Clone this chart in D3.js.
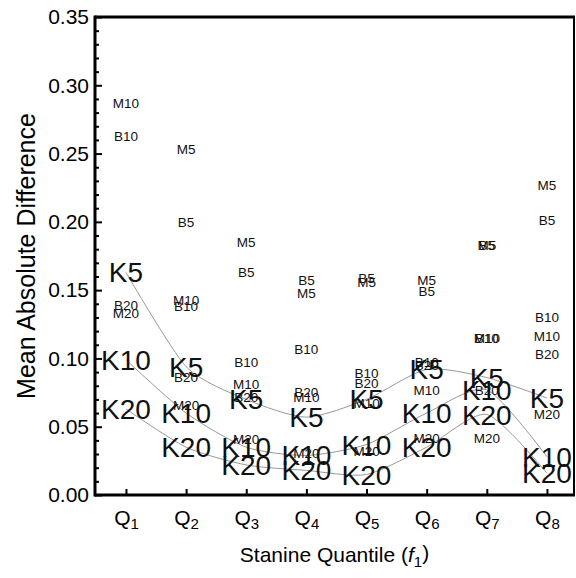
<!DOCTYPE html>
<html>
<head>
<meta charset="utf-8">
<script src="https://cdn.jsdelivr.net/npm/d3@7"></script>
<style>
  html, body { margin: 0; padding: 0; background: #fff; }
  svg { display: block; font-family: "Liberation Sans", Arial, sans-serif; }
</style>
</head>
<body>
<svg id="chart" width="576" height="578"></svg>
<script>
// Stanine quantiles Q1..Q8
const quantiles = [1, 2, 3, 4, 5, 6, 7, 8];
const yMajorTicks = [0, 0.05, 0.10, 0.15, 0.20, 0.25, 0.30, 0.35];

// Mean absolute difference per method (null = outside the plotted range)
const K5  = [0.163, 0.094, 0.070, 0.057, 0.070, 0.092, 0.086, 0.071];
const K10 = [0.099, 0.060, 0.035, 0.029, 0.037, 0.060, 0.077, 0.028];
const K20 = [0.063, 0.035, 0.022, 0.018, 0.015, 0.035, 0.059, 0.016];
const B5  = [null,  0.200, 0.163, 0.157, 0.159, 0.149, 0.183, 0.201];
const B10 = [0.263, 0.138, 0.097, 0.107, 0.089, 0.097, 0.115, 0.130];
const B20 = [0.139, 0.086, 0.072, 0.075, 0.082, 0.095, 0.077, 0.103];
const M5  = [null,  0.253, 0.185, 0.148, 0.156, 0.157, 0.183, 0.227];
const M10 = [0.287, 0.143, 0.081, 0.072, 0.067, 0.077, 0.115, 0.116];
const M20 = [0.133, 0.066, 0.041, 0.031, 0.032, 0.042, 0.042, 0.059];

const kSeries = [["K5", K5], ["K10", K10], ["K20", K20]];
const smallSeries = [["B5", B5], ["B10", B10], ["B20", B20],
                     ["M5", M5], ["M10", M10], ["M20", M20]];

const svg = d3.select("#chart");
const plotLeft = 95, plotRight = 574, plotTop = 17, plotBottom = 495;

const x = d3.scaleLinear().domain([0.485, 8.45]).range([plotLeft, plotRight]);
const y = d3.scaleLinear().domain([0, 0.35]).range([plotBottom, plotTop]);

// Smooth connecting curves for the K series
const line = d3.line()
  .defined(d => d[1] != null)
  .x(d => x(d[0]))
  .y(d => y(d[1]))
  .curve(d3.curveCardinal.tension(0.3));

const gLines = svg.append("g");
kSeries.forEach(([name, vals]) => {
  gLines.append("path")
    .datum(quantiles.map((q, i) => [q, vals[i]]))
    .attr("fill", "none")
    .attr("stroke", "#999")
    .attr("stroke-width", 1)
    .attr("d", line);
});

// Small labels (B and M series)
const gSmall = svg.append("g");
smallSeries.forEach(([name, vals]) => {
  gSmall.selectAll(null)
    .data(quantiles.map((q, i) => [q, vals[i]]).filter(d => d[1] != null))
    .join("text")
    .attr("x", d => x(d[0]))
    .attr("y", d => y(d[1]))
    .attr("dy", "0.36em")
    .attr("text-anchor", "middle")
    .attr("font-size", 13.5)
    .attr("fill", "#111")
    .text(name);
});

// Large labels (K series)
const gBig = svg.append("g");
kSeries.forEach(([name, vals]) => {
  gBig.selectAll(null)
    .data(quantiles.map((q, i) => [q, vals[i]]).filter(d => d[1] != null))
    .join("text")
    .attr("x", d => x(d[0]))
    .attr("y", d => y(d[1]))
    .attr("dy", "0.36em")
    .attr("text-anchor", "middle")
    .attr("font-size", 28)
    .attr("fill", "#111")
    .text(name);
});

// Y axis: major ticks with labels, minor ticks every 0.01
const minorTicks = d3.range(0, 0.3501, 0.01).filter(v => Math.abs(Math.round(v * 20) - v * 20) > 1e-6);
const yMinor = svg.append("g").attr("transform", `translate(${plotLeft},0)`)
  .call(d3.axisLeft(y).tickValues(minorTicks).tickSizeInner(-4).tickSizeOuter(0).tickFormat(""));
const yAxis = svg.append("g").attr("transform", `translate(${plotLeft},0)`)
  .call(d3.axisLeft(y).tickValues(yMajorTicks).tickSizeInner(-7).tickSizeOuter(0)
    .tickPadding(6).tickFormat(d3.format(".2f")));
[yMinor, yAxis].forEach(g => {
  g.select(".domain").remove();
  g.selectAll("line").attr("stroke", "#000").attr("stroke-width", 2);
});
yAxis.selectAll("text").attr("font-size", 21).attr("fill", "#000")
  .attr("font-family", "'Liberation Sans', Arial, sans-serif");

// X axis with subscripted quantile labels
const xAxis = svg.append("g").attr("transform", `translate(0,${plotBottom})`)
  .call(d3.axisBottom(x).tickValues(quantiles).tickSizeInner(-6).tickSizeOuter(0).tickPadding(15));
xAxis.select(".domain").remove();
xAxis.selectAll("line").attr("stroke", "#000").attr("stroke-width", 2);
xAxis.selectAll("text")
  .attr("font-size", 21).attr("fill", "#000")
  .attr("font-family", "'Liberation Sans', Arial, sans-serif")
  .text(null)
  .each(function(d) {
    const t = d3.select(this);
    t.append("tspan").text("Q");
    t.append("tspan").attr("font-size", 15).attr("dy", "0.3em").text(d);
  });

// Frame
const frame = svg.append("g").attr("stroke", "#000").attr("fill", "none");
frame.append("line").attr("x1", plotLeft).attr("x2", plotRight + 1).attr("y1", plotTop).attr("y2", plotTop).attr("stroke-width", 3);
frame.append("line").attr("x1", plotLeft).attr("x2", plotRight + 1).attr("y1", plotBottom).attr("y2", plotBottom).attr("stroke-width", 3);
frame.append("line").attr("x1", plotLeft).attr("x2", plotLeft).attr("y1", plotTop - 1.5).attr("y2", plotBottom + 1.5).attr("stroke-width", 3);
frame.append("line").attr("x1", plotRight).attr("x2", plotRight).attr("y1", plotTop).attr("y2", plotBottom).attr("stroke-width", 2);

// Axis titles
svg.append("text")
  .attr("transform", `translate(26,${(plotTop + plotBottom) / 2}) rotate(-90)`)
  .attr("text-anchor", "middle")
  .attr("dy", "0.35em")
  .attr("font-size", 25)
  .text("Mean Absolute Difference");

const xt = svg.append("text")
  .attr("x", (plotLeft + plotRight) / 2)
  .attr("y", 562)
  .attr("text-anchor", "middle")
  .attr("font-size", 21);
xt.append("tspan").text("Stanine Quantile (");
xt.append("tspan").attr("font-style", "italic").text("f");
xt.append("tspan").attr("font-size", 15).attr("dy", "0.3em").text("1");
xt.append("tspan").attr("dy", "-0.3em").text(")");
</script>
</body>
</html>
